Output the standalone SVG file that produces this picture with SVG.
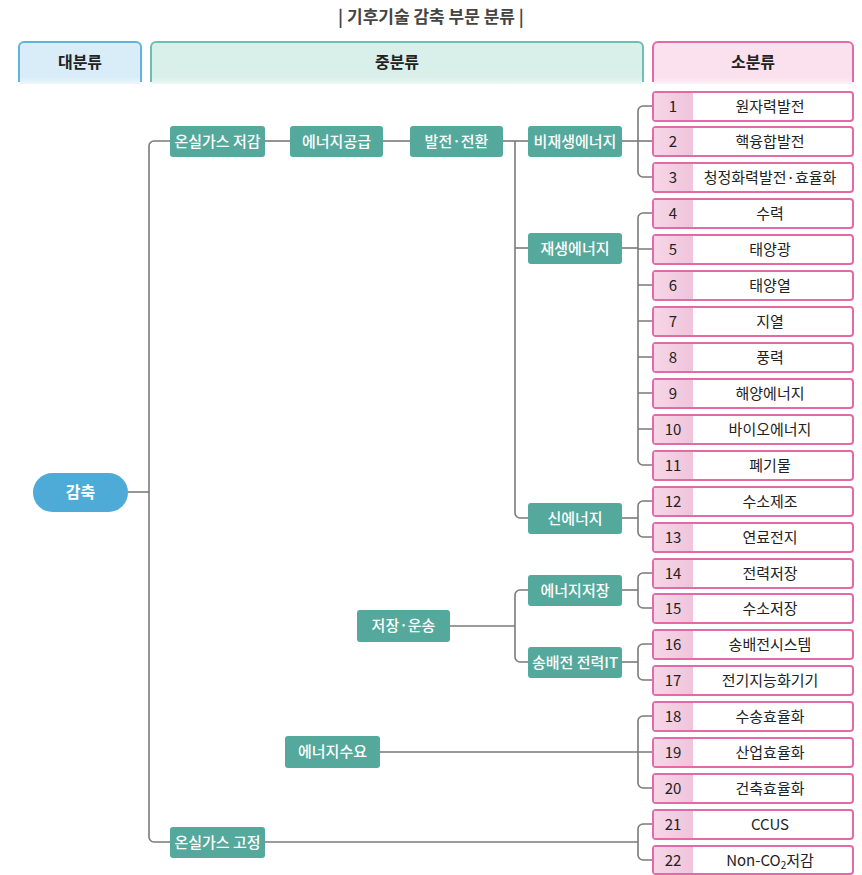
<svg xmlns="http://www.w3.org/2000/svg" width="862" height="875" viewBox="0 0 862 875">
<defs>
<linearGradient id="numg" x1="0" y1="0" x2="1" y2="0">
<stop offset="0" stop-color="#f6d6e6"/><stop offset="1" stop-color="#f0c4db"/>
</linearGradient>
<linearGradient id="hb" x1="0" y1="0" x2="0" y2="1"><stop offset="0" stop-color="#d9edf8"/><stop offset="0.85" stop-color="#d9edf8"/><stop offset="1" stop-color="#eef7fc"/></linearGradient>
<linearGradient id="hg" x1="0" y1="0" x2="0" y2="1"><stop offset="0" stop-color="#d9f0ea"/><stop offset="0.85" stop-color="#d9f0ea"/><stop offset="1" stop-color="#edf8f5"/></linearGradient>
<linearGradient id="hp" x1="0" y1="0" x2="0" y2="1"><stop offset="0" stop-color="#fbe1ee"/><stop offset="0.85" stop-color="#fbe1ee"/><stop offset="1" stop-color="#fdf0f6"/></linearGradient>
</defs>
<style>
text{font-family:"Noto Sans CJK KR","Noto Sans",sans-serif;}
.title{font-size:17px;font-weight:700;fill:#444;text-anchor:middle;}
.hd{font-size:16px;font-weight:700;fill:#222;text-anchor:middle;}
.mid rect{fill:#54a99c;}
.mid text{font-size:15px;font-weight:500;fill:#fff;text-anchor:middle;}
.leaf .b{fill:#fff;stroke:#e36aa8;stroke-width:2;}
.leaf .n{fill:url(#numg);}
.leaf text{font-size:15px;fill:#222;text-anchor:middle;font-family:"Noto Sans CJK KR","Roboto",sans-serif;}
.conn path{fill:none;stroke:#7a7a7a;stroke-width:1.6;}
</style>
<text class="title" x="431" y="23">| 기후기술 감축 부문 분류 |</text>
<g id="headers">
<path d="M19,84 V47 a5,5 0 0 1 5,-5 H136 a5,5 0 0 1 5,5 V84 Z" fill="url(#hb)"/>
<path d="M19,82 V47 a5,5 0 0 1 5,-5 H136 a5,5 0 0 1 5,5 V82" fill="none" stroke="#5cb5dd" stroke-width="2"/>
<text class="hd" x="80" y="68">대분류</text>
<path d="M151,84 V47 a5,5 0 0 1 5,-5 H638 a5,5 0 0 1 5,5 V84 Z" fill="url(#hg)"/>
<path d="M151,82 V47 a5,5 0 0 1 5,-5 H638 a5,5 0 0 1 5,5 V82" fill="none" stroke="#6dbfb3" stroke-width="2"/>
<text class="hd" x="397" y="68">중분류</text>
<path d="M653,84 V47 a5,5 0 0 1 5,-5 H848 a5,5 0 0 1 5,5 V84 Z" fill="url(#hp)"/>
<path d="M653,82 V47 a5,5 0 0 1 5,-5 H848 a5,5 0 0 1 5,5 V82" fill="none" stroke="#e36aa8" stroke-width="2"/>
<text class="hd" x="753" y="68">소분류</text>
</g>
<g id="connectors" class="conn">
<path d="M128,492 H149"/>
<path d="M170,141 H154 a5,5 0 0 0 -5,5 V837 a5,5 0 0 0 5,5 H170"/>
<path d="M265,141 H290"/>
<path d="M383,141 H410"/>
<path d="M503,141 H528"/>
<path d="M515,141 V513 a5,5 0 0 0 5,5 H528"/>
<path d="M515,248 H528"/>
<path d="M450,626 H515"/>
<path d="M528,590 H520 a5,5 0 0 0 -5,5 V657 a5,5 0 0 0 5,5 H528"/>
<path d="M622,141 H638"/>
<path d="M653,106 H643 a5,5 0 0 0 -5,5 V172 a5,5 0 0 0 5,5 H653"/>
<path d="M638,141 H653"/>
<path d="M622,248 H638"/>
<path d="M653,213 H643 a5,5 0 0 0 -5,5 V460 a5,5 0 0 0 5,5 H653"/>
<path d="M638,249 H653 M638,285 H653 M638,321 H653 M638,357 H653 M638,393 H653 M638,429 H653"/>
<path d="M622,518 H638"/>
<path d="M653,501 H643 a5,5 0 0 0 -5,5 V532 a5,5 0 0 0 5,5 H653"/>
<path d="M622,590 H638"/>
<path d="M653,573 H643 a5,5 0 0 0 -5,5 V603 a5,5 0 0 0 5,5 H653"/>
<path d="M622,662 H638"/>
<path d="M653,644 H643 a5,5 0 0 0 -5,5 V675 a5,5 0 0 0 5,5 H653"/>
<path d="M380,752 H653"/>
<path d="M653,716 H643 a5,5 0 0 0 -5,5 V783 a5,5 0 0 0 5,5 H653"/>
<path d="M265,842 H638"/>
<path d="M653,824 H643 a5,5 0 0 0 -5,5 V855 a5,5 0 0 0 5,5 H653"/>
</g>
<g id="n-gamchuk"><rect x="33" y="473" width="95" height="39" rx="19.5" fill="#4eaad6"/><text x="80.5" y="498" font-size="16" font-weight="700" fill="#fff" text-anchor="middle">감축</text></g>
<g id="n-reduce" class="mid"><rect x="170" y="126" width="95" height="31" rx="3"/><text x="217.5" y="146.5">온실가스 저감</text></g>
<g id="n-supply" class="mid"><rect x="290" y="126" width="93" height="31" rx="3"/><text x="336.5" y="146.5">에너지공급</text></g>
<g id="n-gen" class="mid"><rect x="410" y="126" width="93" height="31" rx="3"/><text x="456.5" y="146.5">발전·전환</text></g>
<g id="n-nonrenew" class="mid"><rect x="528" y="126" width="94" height="31" rx="3"/><text x="575" y="146.5">비재생에너지</text></g>
<g id="n-renew" class="mid"><rect x="528" y="233" width="94" height="31" rx="3"/><text x="575" y="253.5">재생에너지</text></g>
<g id="n-new" class="mid"><rect x="528" y="503" width="94" height="31" rx="3"/><text x="575" y="523.5">신에너지</text></g>
<g id="n-storage" class="mid"><rect x="528" y="575" width="94" height="31" rx="3"/><text x="575" y="595.5">에너지저장</text></g>
<g id="n-grid" class="mid"><rect x="528" y="647" width="94" height="31" rx="3"/><text x="575" y="667.5">송배전 전력IT</text></g>
<g id="n-transport" class="mid"><rect x="357" y="610" width="93" height="32" rx="3"/><text x="403.5" y="631">저장·운송</text></g>
<g id="n-demand" class="mid"><rect x="285" y="736" width="95" height="32" rx="3"/><text x="332.5" y="757">에너지수요</text></g>
<g id="n-fix" class="mid"><rect x="170" y="827" width="95" height="31" rx="3"/><text x="217.5" y="847.5">온실가스 고정</text></g>
<g id="leaf1" class="leaf"><rect class="b" x="653" y="92" width="200" height="29" rx="3"/><rect class="n" x="654" y="93" width="39" height="27"/><text x="673" y="111.5">1</text><text x="770" y="111.5">원자력발전</text></g>
<g id="leaf2" class="leaf"><rect class="b" x="653" y="127" width="200" height="29" rx="3"/><rect class="n" x="654" y="128" width="39" height="27"/><text x="673" y="146.5">2</text><text x="770" y="146.5">핵융합발전</text></g>
<g id="leaf3" class="leaf"><rect class="b" x="653" y="163" width="200" height="29" rx="3"/><rect class="n" x="654" y="164" width="39" height="27"/><text x="673" y="182.5">3</text><text x="770" y="182.5">청정화력발전·효율화</text></g>
<g id="leaf4" class="leaf"><rect class="b" x="653" y="199" width="200" height="29" rx="3"/><rect class="n" x="654" y="200" width="39" height="27"/><text x="673" y="218.5">4</text><text x="770" y="218.5">수력</text></g>
<g id="leaf5" class="leaf"><rect class="b" x="653" y="235" width="200" height="29" rx="3"/><rect class="n" x="654" y="236" width="39" height="27"/><text x="673" y="254.5">5</text><text x="770" y="254.5">태양광</text></g>
<g id="leaf6" class="leaf"><rect class="b" x="653" y="271" width="200" height="29" rx="3"/><rect class="n" x="654" y="272" width="39" height="27"/><text x="673" y="290.5">6</text><text x="770" y="290.5">태양열</text></g>
<g id="leaf7" class="leaf"><rect class="b" x="653" y="307" width="200" height="29" rx="3"/><rect class="n" x="654" y="308" width="39" height="27"/><text x="673" y="326.5">7</text><text x="770" y="326.5">지열</text></g>
<g id="leaf8" class="leaf"><rect class="b" x="653" y="343" width="200" height="29" rx="3"/><rect class="n" x="654" y="344" width="39" height="27"/><text x="673" y="362.5">8</text><text x="770" y="362.5">풍력</text></g>
<g id="leaf9" class="leaf"><rect class="b" x="653" y="379" width="200" height="29" rx="3"/><rect class="n" x="654" y="380" width="39" height="27"/><text x="673" y="398.5">9</text><text x="770" y="398.5">해양에너지</text></g>
<g id="leaf10" class="leaf"><rect class="b" x="653" y="415" width="200" height="29" rx="3"/><rect class="n" x="654" y="416" width="39" height="27"/><text x="673" y="434.5">10</text><text x="770" y="434.5">바이오에너지</text></g>
<g id="leaf11" class="leaf"><rect class="b" x="653" y="451" width="200" height="29" rx="3"/><rect class="n" x="654" y="452" width="39" height="27"/><text x="673" y="470.5">11</text><text x="770" y="470.5">폐기물</text></g>
<g id="leaf12" class="leaf"><rect class="b" x="653" y="487" width="200" height="29" rx="3"/><rect class="n" x="654" y="488" width="39" height="27"/><text x="673" y="506.5">12</text><text x="770" y="506.5">수소제조</text></g>
<g id="leaf13" class="leaf"><rect class="b" x="653" y="523" width="200" height="29" rx="3"/><rect class="n" x="654" y="524" width="39" height="27"/><text x="673" y="542.5">13</text><text x="770" y="542.5">연료전지</text></g>
<g id="leaf14" class="leaf"><rect class="b" x="653" y="559" width="200" height="29" rx="3"/><rect class="n" x="654" y="560" width="39" height="27"/><text x="673" y="578.5">14</text><text x="770" y="578.5">전력저장</text></g>
<g id="leaf15" class="leaf"><rect class="b" x="653" y="594" width="200" height="29" rx="3"/><rect class="n" x="654" y="595" width="39" height="27"/><text x="673" y="613.5">15</text><text x="770" y="613.5">수소저장</text></g>
<g id="leaf16" class="leaf"><rect class="b" x="653" y="630" width="200" height="29" rx="3"/><rect class="n" x="654" y="631" width="39" height="27"/><text x="673" y="649.5">16</text><text x="770" y="649.5">송배전시스템</text></g>
<g id="leaf17" class="leaf"><rect class="b" x="653" y="666" width="200" height="29" rx="3"/><rect class="n" x="654" y="667" width="39" height="27"/><text x="673" y="685.5">17</text><text x="770" y="685.5">전기지능화기기</text></g>
<g id="leaf18" class="leaf"><rect class="b" x="653" y="702" width="200" height="29" rx="3"/><rect class="n" x="654" y="703" width="39" height="27"/><text x="673" y="721.5">18</text><text x="770" y="721.5">수송효율화</text></g>
<g id="leaf19" class="leaf"><rect class="b" x="653" y="738" width="200" height="29" rx="3"/><rect class="n" x="654" y="739" width="39" height="27"/><text x="673" y="757.5">19</text><text x="770" y="757.5">산업효율화</text></g>
<g id="leaf20" class="leaf"><rect class="b" x="653" y="774" width="200" height="29" rx="3"/><rect class="n" x="654" y="775" width="39" height="27"/><text x="673" y="793.5">20</text><text x="770" y="793.5">건축효율화</text></g>
<g id="leaf21" class="leaf"><rect class="b" x="653" y="810" width="200" height="29" rx="3"/><rect class="n" x="654" y="811" width="39" height="27"/><text x="673" y="829.5">21</text><text x="770" y="829.5">CCUS</text></g>
<g id="leaf22" class="leaf"><rect class="b" x="653" y="846" width="200" height="28" rx="3"/><rect class="n" x="654" y="847" width="39" height="26"/><text x="673" y="865.5">22</text><text x="770" y="865.5">Non-CO<tspan font-size="10" dy="3">2</tspan><tspan dy="-3">저감</tspan></text></g>
</svg>
